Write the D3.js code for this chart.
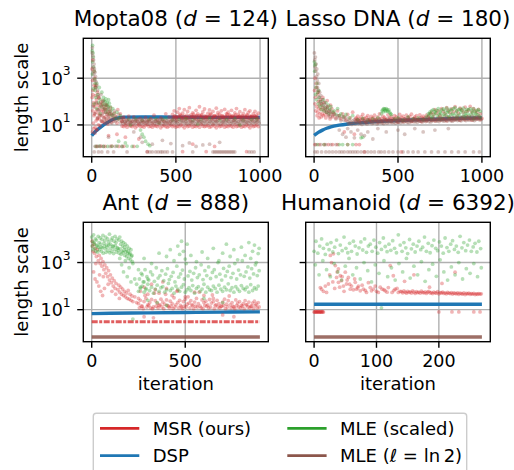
<!DOCTYPE html>
<html><head><meta charset="utf-8">
<script src="https://cdn.jsdelivr.net/npm/d3@7"></script>
<style>
body{margin:0;background:#fff}
svg{display:block}
text{font-family:"DejaVu Sans",sans-serif;fill:#000}
</style>
</head><body>
<svg id="chart" width="514" height="470"></svg>
<script>
// ===================== DATA =====================
const titles = [
  ["Mopta08 (", "d", " = 124)"],
  ["Lasso DNA (", "d", " = 180)"],
  ["Ant (", "d", " = 888)"],
  ["Humanoid (", "d", " = 6392)"]
];
const seriesNames = ["MSR (ours)", "DSP", "MLE (scaled)", "MLE ("];
const xTicksLong = [0, 500, 1000];
const xTicksAnt = [0, 500];
const xTicksHum = [0, 100, 200];
const yTicks = [10, 1000];

// ---------- Mopta08 ----------
const moptaDspIter = [0, 25, 50, 75, 100, 125, 150, 200, 300, 500, 750, 999];
const moptaDspVal  = [3.5, 5.5, 7.7, 10.5, 13.5, 17, 19.5, 21.5, 22, 21.5, 21, 21];
const moptaMsrPts = [[2,2500],[6,6000],[13,2000],[17,1000],[24,500],[5,800],[3,150],[6,40],[8,300],[10,12],[12,90],[14,25],[15,500],[18,60],[20,8],[22,180],[24,35],[26,15],[28,120],[30,6],[32,45],[34,250],[36,20],[38,70],[40,10],[42,30],[44,140],[46,18],[48,55],[50,9],[55,40],[60,25],[62,80],[65,14],[70,35],[72,60],[75,12],[80,22],[85,45],[88,16],[90,30],[95,11],[100,25],[105,18],[110,40],[115,13],[120,28],[125,20],[130,15],[140,24],[150,12],[160,18],[170,30],[180,14],[190,22],[4,5],[12,7],[20,4.5],[30,6.5],[58,70],[66,110],[78,50],[92,65],[108,30],
  [7,200],[11,70],[16,30],[21,400],[27,85],[33,18],[39,160],[47,26],[53,95],[59,14],[67,45],[73,20],[83,75],[97,35],[112,55],[135,32],[155,45],[175,20],
  [30,1.2],[55,1.25],[80,1.2],[120,1.25],[160,1.2],[190,1.22],[250,1.2],[100,3.5],[150,4],[200,3],[280,2.5],[330,0.72],[540,0.72],[600,1.5],[680,0.72],[730,1.2],[920,0.72]];
const moptaMsrLow = [9,8.5,9.5,8,10,9,8.5,9.5,7.5,9, 10,8.5,9,8,9.5,10.5,8.5,9,8,9.5, 9,8.5,10,7.5,9,9.5,8.5,8,9,10, 8.5,9.5,8,9,8.5,10,9,7.5,9.5,8.5, 9,10,8,9,8.5,9.5,8,10.5,9,8.5, 9,9.5,8,8.5,10,9,7.5,9.5,8.5,9, 10,8,9,8.5,9.5,9,8,10,8.5,9, 9.5,8,9,8.5,10,9,7.5,9.5,8.5,9, 10,8.5];
const moptaMsrHigh = [14,18,12,16,24,13,15,22,14,17, 12,19,15,13,21,16,14,18,12,26, 15,17,13,20,16,14,30,12,22,15,
  28,40,22,35,50,25,32,45,20,38, 55,27,33,24,42,30,60,26,36,48, 22,31,44,28,38,25,52,34,29,40, 23,46,30,35,27,42,24,33,50,28, 37,22,31,45,26,34,40,24,30,38, 26,32];
const moptaMsrMid = [18,24,16,21,28,19,23,17,26,20, 15,22,29,18,25,16,21,27,19,24, 17,22,30,18,23,16,26,20,19,25, 17,22,28,18,21,24,16,27,20,23, 18,25,17,21,26,19,22,16,24,20, 18];
const moptaMsrBlueCover = [21,23,20,22,24,21,19,23,22,20, 24,21,22,20,23,21,25,22,20,23, 21,22,24,20,21,23,22,19,24,21, 22,20,23,21,24,22,20,23,21,22, 24,20,22,23,21,20,24,22,21,23, 22,20];
const moptaMleScaledPts = [[5,25000],[3,15000],[8,12000],[10,8000],[6,5000],[12,3000],[15,2000],[4,1500],[18,900],[20,600],[25,400],[9,350],
  [20,300],[25,150],[30,600],[35,200],[40,90],[45,400],[50,120],[55,60],[60,250],[65,80],[70,150],[75,50],[80,100],[85,35],[90,70],[95,45],[100,120],[105,30],[110,60],[115,40],[120,25],[125,50],[130,30],[140,20],[150,35],[160,18],[170,25],[30,50],[50,30],[15,80],[72,110],[78,70],[84,130],[92,90],[98,60],[104,85],
  [220,17],[260,18],[300,16],[340,17],[380,18],[420,17],[440,19],[480,16],[520,17],[560,18],[600,16],[650,17],[700,19],[760,16],[800,17],[850,18],[900,16],[950,17],[980,18],[230,10],[400,12],[630,11],[880,10],
  [25,1.2],[45,1.25],[70,1.2],[95,1.2],[120,1.22],[150,1.25],[180,1.2],[210,1.25],[240,1.2],[270,1.22],[290,6],[300,4],[310,3],[320,2],[335,1.5],[345,1.3],[160,2],[200,1.7]];
const moptaLn2Pts = [[4,20000],[7,9000],[11,6000],[14,4000],[16,2500],[19,1800],[22,1200],[26,700],[30,500],[35,300],[40,200],[3,12000],[9,3000],[12,1500],[18,800],[24,400],
  [42,150],[45,40],[48,80],[52,25],[55,200],[58,15],[62,60],[65,30],[68,100],[72,20],[75,45],[78,14],[82,35],[85,70],[88,18],[92,28],[95,50],[98,13],[102,22],[106,38],[110,16],[115,30],[120,12],[125,25],[130,18],[135,40],[140,14],[145,22],[150,16],[160,28],[170,13],[175,20],[10,60],[20,30],[28,90],[34,20],[38,45],
  [15,0.7],[40,0.7],[60,0.7],[95,0.7],[130,0.7],[210,0.7],[330,0.7],[345,0.7],[360,0.7],[380,0.7],[395,0.7],[410,0.7],[420,0.7],[435,0.7],[450,0.7],[480,0.7],[600,0.7],[720,0.7],[730,0.7],[740,0.7],[750,0.7],[760,0.7],[770,0.7],[780,0.7],[790,0.7],[800,0.7],[810,0.7],[820,0.7],[830,0.7],[840,0.7],[850,0.7],[935,0.7],[950,0.7],[965,0.7],
  [20,1.22],[35,1.22],[50,1.2],[70,1.22],[110,1.2],[140,1.22],[180,1.2],
  [300,1.8],[360,1.5],[420,2.2],[470,1.6],[540,1.3],[580,1.7],[620,1.2],[660,1.4],[700,1.5],[760,1.8],[250,5],[290,3],[100,3]];
const moptaLn2BandA = [15,17,14,16,18,15,14,17,16,15, 18,14,16,17,15,14,16,19,15,17, 14,16,15,17,18,14,16,15,17,14, 16,18,15,14,17,16,15,18,14,16, 17,15,14,16,18,15,17,14,16,15, 17,18,14,16,15,17,14,16,19,15, 14,17,16,15,18,14,16,17,15,14, 16,18,15,17,14,16,15,17,18,14, 16,15];
const moptaLn2BandB = [12,13,11.5,13.5,12,12.5,11,13,12,13.5, 11.5,12.5,13,12,12.5,11,13.5,12,13,11.5, 12.5,13,12,13.5,11,12.5,12,13,12,11.5, 13.5,12.5,13,11,12,13.5,13,12.5,11.5,12, 12,13,12.5,11,13,13.5,12,13,11.5,12.5, 13,12,13.5,11.5,12,12.5,13.5,12,11,13, 12.5,13,12,13.5,11.5,13,12.5,13,12,11, 13.5,13,12,12.5,13,11.5,13,12,13,12.5, 13.5,12];

// ---------- Lasso DNA ----------
const lassoDspIter = [0, 25, 50, 75, 100, 150, 200, 300, 400, 500, 600, 700, 800, 900, 999];
const lassoDspVal  = [3.6, 4.8, 6, 7.2, 8.3, 9.8, 11, 12.8, 14.3, 15.5, 16.5, 17.5, 18.5, 19.3, 20];
const lassoMsrPts = [[3,300],[5,80],[8,150],[10,40],[12,600],[15,60],[18,25],[20,200],[22,35],[25,100],[28,50],[30,20],[32,70],[35,30],[38,120],[40,45],[42,22],[45,80],[48,30],[50,55],[55,25],[58,40],[60,90],[65,28],[68,50],[70,20],[75,35],[80,60],[85,25],[90,40],[95,18],[100,30],[105,50],[110,22],[115,35],[120,28],[130,20],[140,40],[150,25],[160,18],[170,30],[180,22],[190,16],[200,28],[215,20],[230,35],[250,18],[6,1000],[14,400],[24,250],[52,150],[78,110],[98,70],
  [5,1.45],[30,1.45],[60,1.45],[85,1.45],[110,1.45],[140,1.45],[200,1.45],[250,1.45],[270,1.45],[180,5],[240,4],[300,0.7],[520,0.7]];
const lassoMsrUpper = [20,24,18,22,28,19,21,25,17,23, 20,26,18,22,30,19,24,21,17,27, 20,23,18,25,22,19,28,21,24,18, 26,20,23,29,19,22,25,18,27,21, 24,20,26,22,30,
  35,28,45,32,40,26,50,38,30,55, 42,33,48,36,60,40,31,52,45,35, 58,38,44,62,36,50,40,34,46,30];
const lassoMsrLower = [15,17,14,16,18,15,13,17,16,14, 18,15,16,13,17,15,14,18,16,15, 17,14,16,18,15,13,17,16,14,18, 15,17,16,14,15,18,16,17,15,14, 18,16,15,17,19,16,18,15,17,20, 16,18,19,17,15,20,18,16,19,17, 21,18,16,20,19,17,22,18,20,16, 19,21,18,20,17,19];
const lassoMleScaledPts = [[2,5000],[5,3500],[8,4000],[4,2000],
  [10,200],[15,120],[20,250],[25,80],[30,150],[35,60],[40,100],[45,45],[50,70],[55,120],[60,40],[65,55],[70,90],[75,35],[80,50],[85,70],[90,30],[95,45],[100,60],[110,35],[120,40],[130,28],[140,50],[150,25],[160,30],[175,22],[190,28],[210,20],[230,25],[12,400],[18,600],[28,300],
  [260,17],[290,19],[320,16],[350,18],[380,20],
  [400,30],[405,40],[410,45],[415,50],[420,48],[425,42],[430,50],[435,45],[440,38],[445,44],[450,35],[455,30],[460,28],[412,36],[428,38],
  [480,18],[500,20],[530,16],[560,22],[590,18],[620,20],[650,17],[670,22],
  [700,20],[750,18],[800,22],[850,19],[900,21],[950,18],[990,20],
  [150,1.45],[170,1.45],[200,1.45],[230,1.45],[280,2.8],[290,3],[20,1.45],[60,1.45]];
const lassoMleScaledBand = [30,35,40,45,38,42,50,36,44,48, 40,52,38,46,42,50,55,40,45,48, 42,52,38,46,44,50,40,48,36,42, 45,38];
const lassoMleScaledBand2 = [25,30,22,28,33,24,27,31,23,29, 26,34,22,28,30,25,32,24,27,35, 23,29,26,31,24,28,33,25,30,27, 24];
const lassoLn2Pts = [[2,12000],[4,6000],[6,3000],[8,8000],[10,2000],[12,4000],[14,1200],[16,2500],[18,800],[20,400],[22,1500],[25,300],[28,600],[30,150],[33,250],[36,100],[40,180],[45,80],[50,120],[55,60],[60,90],[65,45],[70,70],[75,35],[80,55],[85,28],[90,40],[95,22],[100,35],[110,25],[120,30],[130,18],[140,25],[150,20],[160,15],[170,22],[180,16],[190,20],
  [150,6],[170,4],[190,3],[200,7],[220,5],[240,2.8],[260,6],[280,4],[300,3.5],[320,5],[350,2.5],[380,7],[430,5],[500,6],[540,4],[600,7],[650,5],[720,6],[800,7],
  [5,0.7],[20,0.7],[45,0.7],[70,0.7],[90,0.7],[110,0.7],[130,0.7],[150,0.7],[165,0.7],[180,0.7],[200,0.7],[215,0.7],[230,0.7],[245,0.7],[260,0.7],[280,0.7],[300,0.7],[320,0.7],[340,0.7],[360,0.7],[385,0.7],[400,0.7],[420,0.7],[445,0.7],[470,0.7],[500,0.7],[530,0.7],[560,0.7],[590,0.7],[620,0.7],[660,0.7],[700,0.7],[740,0.7],[780,0.7],[820,0.7],[860,0.7],[900,0.7],[950,0.7],[985,0.7],
  [10,1.45],[40,1.45],[70,1.45],[100,1.45],[130,1.45]];
const lassoLn2BandA = [14,16,13,15,17,14,16,15,13,17, 15,14,16,18,15,14,17,16,15,18, 14,16,17,15,19,16,14,18,17,15, 16,19,17,15,18,16,20,17,15,18, 19,16,17,20,18,16,19,17,21,18, 16,20,19,17,18,21,19,17,20,22, 18,19,21,20,18,22,19,21,20,23, 19,21,22,20,24,21,19,22,23,21];
const lassoLn2BandB = [11,12,10.5,12.5,11,13,11.5,12,10.5,13, 12,11,12.5,13,11.5,12,13.5,11,12.5,13, 12,11.5,13.5,12,13,14,12.5,13,12,14, 13.5,12.5,14,13,14.5,13,12.5,14,15,13.5, 14,13,15,14.5,13.5,15,14,15.5,14,13.5, 15,16,14.5,15,14,16,15.5,14.5,16,15, 16.5,15,14.5,16,17,15.5,16,15,17,16.5, 15.5,17,16,17.5,16,15.5,17,18,16.5,17];

// ---------- Ant ----------
const antDspIter = [0, 100, 300, 500, 700, 899];
const antDspVal  = [6.8, 7.0, 7.3, 7.6, 7.9, 8.1];
const antMsrFloorIter = [0, 899];
const antMsrFloorVal  = [3.06, 3.06];
const antLn2Iter = [0, 899];
const antLn2Val  = [0.693, 0.693];
const antMsrPts = [[2,8000],[5,5000],[8,3000],[12,6000],[15,2500],[20,4000],[25,1800],[30,3500],[35,1200],[40,2000],[45,900],[50,1500],[55,700],[60,1100],[65,500],[70,800],[75,350],[80,600],[85,250],[90,450],[95,180],[100,300],[105,140],[110,220],[115,100],[120,170],[125,80],[130,130],[140,70],[145,110],[150,55],[155,90],[160,45],[165,75],[170,40],[175,60],[180,35],[185,50],[190,30],[195,65],[200,28],[205,45],[210,25],[215,38],[220,22],[230,35],[240,20],[250,30],
  [10,400],[18,200],[28,150],[38,100],[48,60],[58,40],[68,80],[22,900],[42,300],[62,250],[88,120],[108,60],[128,45],[148,30],
  [260,60],[280,90],[300,45],[320,120],[340,70],[360,50],[380,150],[400,80],[430,40],[460,65],[500,35],[550,55],[600,40],[650,30],
  [280,5],[330,4.5],[700,6],[760,5]];
const antMsrBandA = [18,25,14,22,30,16,20,27,13,24, 19,15,28,21,17,26,14,23,18,32, 16,20,25,13,22,28,17,19,24,15, 21,30,18,14,26,20,23,16,27,19, 22,15,25,18,14,21,28,17,24,16, 20,13,26,19,22,15,18,24,16,21, 14,19,23,17,20];
const antMsrBandB = [12,14,11,40,13,15,12,11,50,14, 12,16,13,11,45,15,12,14,11,13, 60,12,15,11,14,13,35,12,16,11, 14,13,55,12,11,15,14,12,13,42, 11,16,13,12,14,15,11,13,38,12, 14,11,15,13,12,14,11,16,13,12, 14,11,15,12,13];
const antMleScaledTopA = [12000,8000,15000,6000,10000,9000,5000,13000,7000,11000, 4500,9500,14000,6500,8500,12000,5500,10000,7500,16000, 6000,9000,11000,5000,8000,13000,7000,10000,4000,9000, 12000,6000,8000,5000,7000,4500,6000,3500,5000,3000, 4000,2500,3500,2000];
const antMleScaledTopB = [5000,3500,7000,4000,3000,5500,2800,4500,3500,6000, 3000,4200,2500,5000,3800,2700,4500,3200,5500,2600, 4000,3000,4800,2400,3600,5200,2800,4200,3300,2500, 3800,2200,3000,2600,3400,2000,2800,1800,2500,1500, 2200,1300,1800,1100];
const antMleScaledPts = [[150,1500],[160,800],[170,400],[180,1200],[190,250],[200,600],[210,150],[220,900],[230,200],[240,120],[250,500],[260,90],[270,300],[280,150],[290,80],[300,200],
  [280,1500],[320,900],[360,2500],[400,1800],[420,3500],[440,1200],[460,5000],[470,2200],[480,8000],[490,3000],[500,1400],[510,6000],[530,2000],[560,1100],[590,2800],[620,1500],[650,4000],[680,1200],[700,2500],[720,6000],[740,1800],[760,3500],[780,1300],[800,4500],[820,2000],[840,7000],[850,1500],[860,3000],[870,5500],[880,1000],[890,2400],[895,4000],
  [300,25],[350,20],[600,30],[220,4],[400,15],[700,20]];
const antMleScaledBandA = [60,80,100,55,70,120,65,90,50,75, 110,60,85,95,55,70,130,65,80,50, 100,75,60,90,115,55,70,85,65,105, 50,80,95,60,75,120,55,90,70,65, 100,80,55,110,75,60,90,70,125,65, 85,55,95,75,60,105,80,70,90,55, 115,65,85,75,100];
const antMleScaledBandB = [200,350,150,500,250,180,400,300,160,600, 220,280,450,170,320,550,190,260,380,150, 700,240,330,480,200,900,270,420,180,350, 600,230,300,800,190,450,280,650,210,380, 500,250,1000,320,180,560,270,420,700,230, 350,900,200,480,300,1200,260,400,650,220, 550,330,800,280,450];

// ---------- Humanoid ----------
const humDspIter = [0, 269];
const humDspVal  = [17, 17];
const humLn2Iter = [0, 269];
const humLn2Val  = [0.693, 0.693];
const humMsrStart = [8,7.8,8.2,8,7.9,8.1,8,8.2,7.8,8,8.1,7.9,8,8.2,8,7.9];
const humMsrPts = [[10,87],[12,74],[18,100],[20,54],[23,123],[26,2000],[28,1000],[31,2344],[34,741],[36,234],[39,537],[39,145],[42,275],[44,170],[47,100],[50,389],[52,123],[55,234],[58,74],[60,100],[66,145],[68,74],[71,100],[74,63],[79,74],[84,54],[90,87],[92,63],[98,100],[103,54],[109,74],[114,63],[119,87],[122,741],[125,54],[127,275],[130,74],[135,54],
  [15,60],[25,300],[30,150],[33,80],[37,400],[41,90],[45,250],[48,60],[53,180],[57,120],[63,70],[65,200],[70,85],[77,110],[82,65],[87,140],[95,75],[100,60],[106,90],[112,70],[117,55],[128,65],[133,80],[138,60],[145,160],[160,300],[185,90],[205,130],[226,389],
  [200,8],[221,8],[232,8],[256,8],[266,8]];
const humMsrBand = [58,52,62,55,50,60,54,57,51,63, 55,49,58,53,56,50,61,54,52,57, 49,55,60,51,53,48,56,52,50,58, 47,53,51,55,49,52,47,54,50,48, 53,46,51,49,47,52,45,50,48,46, 51,44,49,47,50,45,48,46,49,44, 47,45,48,46,47];
const humMleScaledTop = [3000,8000,2500,5000,10000,4000,2200,6000,3500,7000, 2800,4500,9000,2400,5500,3200,12000,4000,2600,6500, 3000,8000,5000,2300,4200,7500,3400,10000,2700,5000, 6000,3000,9000,4500,2500,7000,3600,11000,4800,2900, 6000,3300,8500,4000,2600,15000,5500,3000,7000,4200, 2400,9500,3800,6000,2800,5000,8000,3500,4500,12000, 3000,6500,2600,5200,9000,4000,3200,7500,5000,2500, 11000,4300,3000,6000,8500,3600,5000,2700,13000,4200, 7000,3200,5500,9000,3000,4600,6500,2800,8000,3900];
const humMleScaledPts = [[2,800],[8,300],[14,1200],[20,500],[26,250],[32,900],[38,400],[44,180],[50,700],[56,1500],[62,300],[68,600],[74,200],[80,1000],[86,450],[92,150],[98,800],[104,350],[108,12],[112,1200],[118,250],[124,600],[130,180],[136,900],[142,400],[148,1500],[154,220],[160,700],[166,300],[172,1100],[178,160],[184,500],[190,850],[196,260],[202,1300],[208,400],[214,180],[220,650],[226,300],[232,1000],[238,200],[244,550],[250,350],[256,900],[262,250],[268,600]];

// ===================== HELPERS =====================
const row = (start, step, vals) => vals.map((v, i) => [start + i * step, v]);
const zip = (xs, ys) => xs.map((x, i) => [x, ys[i]]);

const COL = {msr: "#d62728", dsp: "#1f77b4", mle: "#2ca02c", ln2: "#8c564b"};

const panels = [
  { title: titles[0], box: [83.3, 38.3, 268.3, 156.7], xticks: xTicksLong, yLab: true, xLab: false,
    dsp: zip(moptaDspIter, moptaDspVal),
    msr: [...moptaMsrPts, ...row(180, 10, moptaMsrLow), ...row(180, 10, moptaMsrHigh), ...row(485, 10, moptaMsrMid), ...row(480, 10, moptaMsrBlueCover)],
    mle: moptaMleScaledPts,
    ln2: [...moptaLn2Pts, ...row(180, 10, moptaLn2BandA), ...row(185, 10, moptaLn2BandB)],
    msrLine: null, ln2Line: null },
  { title: titles[1], box: [305.7, 38.3, 490.3, 156.7], xticks: xTicksLong, yLab: false, xLab: false,
    dsp: zip(lassoDspIter, lassoDspVal),
    msr: [...lassoMsrPts, ...row(250, 10, lassoMsrUpper), ...row(250, 10, lassoMsrLower)],
    mle: [...lassoMleScaledPts, ...row(680, 10, lassoMleScaledBand), ...row(685, 10, lassoMleScaledBand2)],
    ln2: [...lassoLn2Pts, ...row(200, 10, lassoLn2BandA), ...row(205, 10, lassoLn2BandB)],
    msrLine: null, ln2Line: null },
  { title: titles[2], box: [83.3, 222.3, 268.3, 341.7], xticks: xTicksAnt, yLab: true, xLab: true,
    dsp: zip(antDspIter, antDspVal),
    msr: [...antMsrPts, ...row(250, 10, antMsrBandA), ...row(255, 10, antMsrBandB)],
    mle: [...row(0, 5, antMleScaledTopA), ...row(2, 5, antMleScaledTopB), ...antMleScaledPts, ...row(250, 10, antMleScaledBandA), ...row(255, 10, antMleScaledBandB)],
    ln2: [],
    msrLine: zip(antMsrFloorIter, antMsrFloorVal), ln2Line: zip(antLn2Iter, antLn2Val) },
  { title: titles[3], box: [305.7, 222.3, 490.3, 341.7], xticks: xTicksHum, yLab: false, xLab: true,
    dsp: zip(humDspIter, humDspVal),
    msr: [...row(0, 1, humMsrStart), ...humMsrPts, ...row(140, 2, humMsrBand)],
    mle: [...row(0, 3, humMleScaledTop), ...humMleScaledPts],
    ln2: [],
    msrLine: null, ln2Line: zip(humLn2Iter, humLn2Val) }
];

// ===================== DRAW =====================
const svg = d3.select("#chart");
const Y_LO = Math.pow(10, -0.359), Y_HI = Math.pow(10, 4.707);
const TICK = 6.1, FS_TICK = 17.5, DOT_R = 1.9, DOT_OP = 0.34;

panels.forEach((p, k) => {
  const [L, T, R, B] = p.box;
  const all = [...p.dsp, ...p.msr, ...p.mle, ...p.ln2, ...(p.msrLine || []), ...(p.ln2Line || [])];
  const [xmin, xmax] = d3.extent(all, d => d[0]);
  const pad = (xmax - xmin) * 0.05;
  const x = d3.scaleLinear().domain([xmin - pad, xmax + pad]).range([L, R]);
  const y = d3.scaleLog().domain([Y_LO, Y_HI]).range([B, T]);

  svg.append("clipPath").attr("id", "clip" + k)
    .append("rect").attr("x", L).attr("y", T).attr("width", R - L).attr("height", B - T);

  const g = svg.append("g");
  const grid = g.append("g").attr("stroke", "#b0b0b0").attr("stroke-width", 1.4);
  p.xticks.forEach(t => grid.append("line").attr("x1", x(t)).attr("x2", x(t)).attr("y1", T).attr("y2", B));
  yTicks.forEach(t => grid.append("line").attr("x1", L).attr("x2", R).attr("y1", y(t)).attr("y2", y(t)));

  const plot = g.append("g").attr("clip-path", `url(#clip${k})`);
  const line = d3.line().x(d => x(d[0])).y(d => y(d[1])).curve(d3.curveMonotoneX);

  plot.append("path").datum(p.dsp).attr("d", line).attr("fill", "none")
    .attr("stroke", COL.dsp).attr("stroke-width", 3.4).attr("stroke-linecap", "butt");

  const dots = (data, color, op) => plot.append("g").selectAll("circle").data(data).join("circle")
    .attr("cx", d => x(d[0])).attr("cy", d => y(d[1])).attr("r", DOT_R)
    .attr("fill", color).attr("fill-opacity", op);

  dots(p.msr, COL.msr, DOT_OP);
  if (p.msrLine) plot.append("path").datum(p.msrLine).attr("d", line).attr("fill", "none")
    .attr("stroke", COL.msr).attr("stroke-width", 3).attr("stroke-opacity", 0.75).attr("stroke-dasharray", "6,1.5,3,1.5");
  dots(p.mle, COL.mle, DOT_OP);
  dots(p.ln2, COL.ln2, DOT_OP);
  if (p.ln2Line) plot.append("path").datum(p.ln2Line).attr("d", line).attr("fill", "none")
    .attr("stroke", COL.ln2).attr("stroke-width", 3.6).attr("stroke-opacity", 0.85);

  g.append("rect").attr("x", L).attr("y", T).attr("width", R - L).attr("height", B - T)
    .attr("fill", "none").attr("stroke", "#000").attr("stroke-width", 1.4);

  const xa = g.append("g");
  p.xticks.forEach(t => {
    xa.append("line").attr("x1", x(t)).attr("x2", x(t)).attr("y1", B).attr("y2", B + TICK).attr("stroke", "#000").attr("stroke-width", 1.4);
    xa.append("text").attr("x", x(t)).attr("y", B + 25.5).attr("text-anchor", "middle").style("font-size", FS_TICK + "px").text(t);
  });
  yTicks.forEach(t => {
    g.append("line").attr("x1", L - TICK).attr("x2", L).attr("y1", y(t)).attr("y2", y(t)).attr("stroke", "#000").attr("stroke-width", 1.4);
    if (p.yLab) {
      const e = Math.round(Math.log10(t));
      const tx = g.append("text").attr("x", L - 12.6).attr("y", y(t) + 6.6).attr("text-anchor", "end").style("font-size", FS_TICK + "px");
      tx.append("tspan").text("10");
      tx.append("tspan").attr("dy", -9.5).style("font-size", "12.3px").text(e);
    }
  });

  const tt = g.append("text").attr("x", (L + R) / 2).attr("y", T - 12.3).attr("text-anchor", "middle").style("font-size", "21.5px");
  tt.append("tspan").text(p.title[0]);
  tt.append("tspan").style("font-style", "italic").text(p.title[1]);
  tt.append("tspan").text(p.title[2]);

  if (p.yLab) {
    g.append("text").attr("transform", `translate(27.5,${(T + B) / 2}) rotate(-90)`)
      .attr("text-anchor", "middle").style("font-size", "18px").text("length scale");
  }
  if (p.xLab) {
    g.append("text").attr("x", (L + R) / 2).attr("y", B + 48.6).attr("text-anchor", "middle")
      .style("font-size", "18px").text("iteration");
  }
});

// ===================== LEGEND =====================
const lg = svg.append("g");
lg.append("rect").attr("x", 93.3).attr("y", 413.3).attr("width", 373.4).attr("height", 80).attr("rx", 3)
  .attr("fill", "#fff").attr("fill-opacity", 0.8).attr("stroke", "#cccccc").attr("stroke-width", 1.4);
const legendItems = [
  {name: seriesNames[0], color: COL.msr, col: 0, r: 0},
  {name: seriesNames[1], color: COL.dsp, col: 0, r: 1},
  {name: seriesNames[2], color: COL.mle, col: 1, r: 0},
  {name: seriesNames[3], color: COL.ln2, col: 1, r: 1, ell: true}
];
const colX = [100, 287.3], rowY = [428.3, 455.7];
legendItems.forEach(it => {
  const x0 = colX[it.col], yc = rowY[it.r];
  lg.append("line").attr("x1", x0).attr("x2", x0 + 39.3).attr("y1", yc).attr("y2", yc)
    .attr("stroke", it.color).attr("stroke-width", 2.8);
  const t = lg.append("text").attr("x", x0 + 52.7).attr("y", yc + 6.5).style("font-size", "18px");
  t.append("tspan").text(it.name);
  if (it.ell) {
    t.append("tspan").style("font-style", "italic").text("\u2113");
    t.append("tspan").text(" = ln\u20092)");
  }
});
</script>
</body></html>
